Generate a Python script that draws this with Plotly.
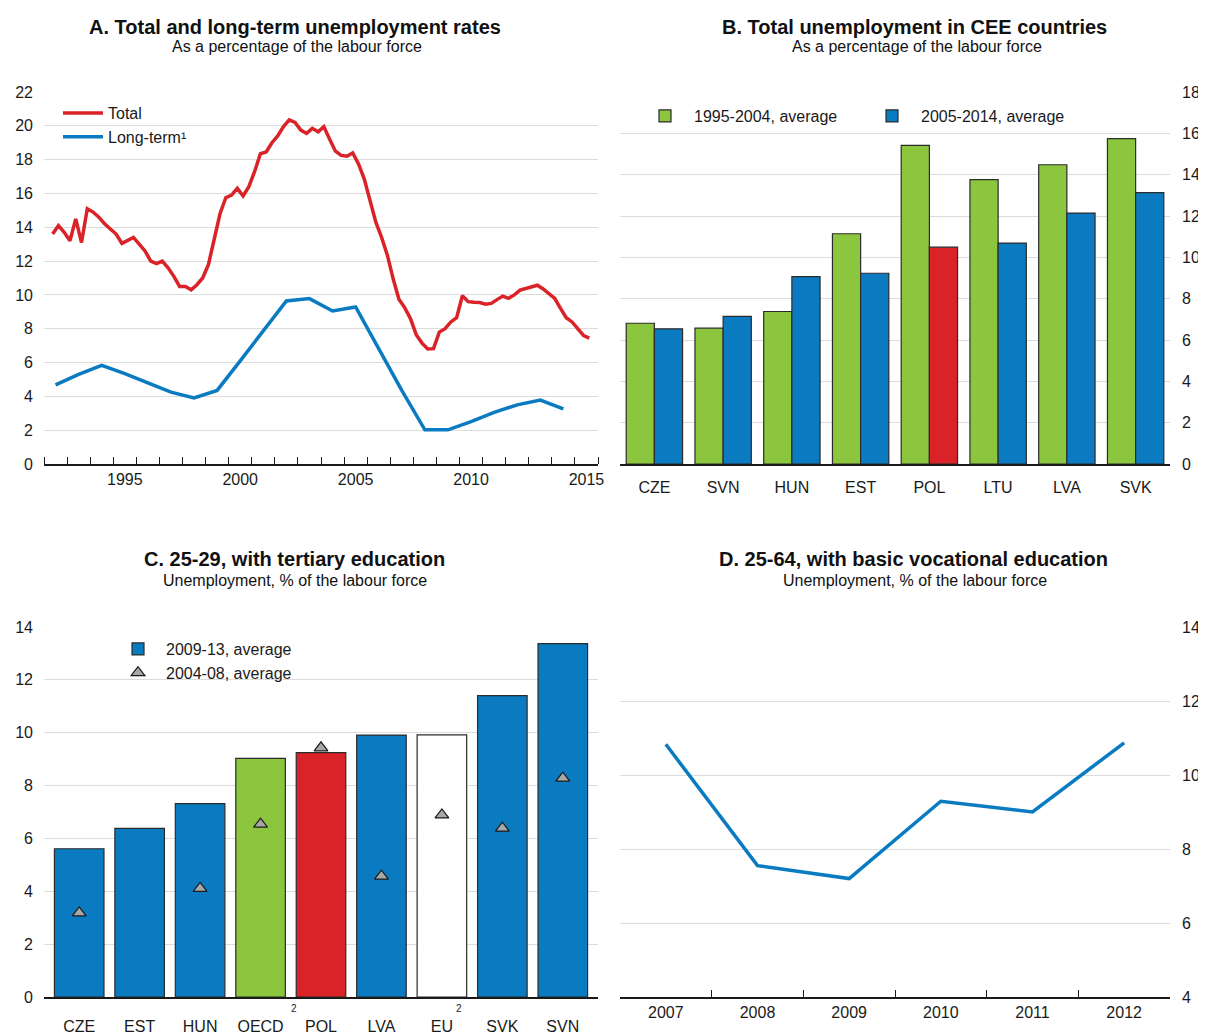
import plotly.graph_objects as go

FONT = "Liberation Sans, Arial, sans-serif"
RED = "#DA2229"
BLUE = "#0A7BC1"
GREEN = "#8CC63F"
GRID = "#DCDCDC"

# ---------------- Panel A data ----------------
quarter_start_year, quarter_start_q = 1992, 2
total_rate = [
    13.6, 14.1, 13.7,
    13.2, 14.5, 13.1, 15.1,
    14.9, 14.6, 14.2, 13.9,
    13.6, 13.05, 13.25, 13.4,
    13.0, 12.6, 12.0, 11.85,
    12.0, 11.6, 11.1, 10.5,
    10.5, 10.3, 10.6, 11.0,
    11.8, 13.3, 14.8, 15.75,
    15.9, 16.3, 15.85, 16.4,
    17.3, 18.35, 18.45, 19.0,
    19.4, 19.95, 20.35, 20.2,
    19.75, 19.55, 19.85, 19.65,
    19.95, 19.2, 18.5, 18.25,
    18.2, 18.4, 17.75, 16.85,
    15.65, 14.3, 13.4, 12.35,
    10.95, 9.75, 9.25, 8.6,
    7.65, 7.15, 6.8, 6.82,
    7.8, 8.0, 8.4, 8.65,
    9.95, 9.6, 9.57, 9.55,
    9.45, 9.5, 9.72, 9.93,
    9.8, 10.0, 10.28, 10.38,
    10.52, 10.57, 10.35, 10.05,
    9.8, 9.2, 8.65, 8.4,
    8.0, 7.6, 7.45,
]
lt_years = list(range(1992, 2015))
long_term = [4.68, 5.3, 5.83, 5.35, 4.8, 4.25, 3.91, 4.35, 6.1, 7.9, 9.64, 9.78,
             9.05, 9.29, 6.8, 4.35, 2.02, 2.02, 2.5, 3.05, 3.5, 3.78, 3.26]
a_tick_years = [1995, 2000, 2005, 2010, 2015]

# ---------------- Panel B data ----------------
b_countries = ["CZE", "SVN", "HUN", "EST", "POL", "LTU", "LVA", "SVK"]
b_1995_2004 = [6.81, 6.57, 7.38, 11.14, 15.42, 13.76, 14.48, 15.74]
b_2005_2014 = [6.54, 7.14, 9.07, 9.23, 10.49, 10.69, 12.14, 13.13]

# ---------------- Panel C data ----------------
c_countries = ["CZE", "EST", "HUN", "OECD", "POL", "LVA", "EU", "SVK", "SVN"]
c_notes = ["OECD", "EU"]  # categories carrying footnote 2
c_2009_13 = [5.61, 6.38, 7.32, 9.03, 9.25, 9.91, 9.92, 11.4, 13.37]
c_2004_08 = [3.18, None, 4.11, 6.54, 9.43, 4.57, 6.89, 6.39, 8.28]
c_bar_colors = [BLUE, BLUE, BLUE, GREEN, RED, BLUE, "white", BLUE, BLUE]

# ---------------- Panel D data ----------------
d_years = ["2007", "2008", "2009", "2010", "2011", "2012"]
d_values = [10.83, 7.55, 7.2, 9.29, 9.0, 10.87]

# derived x positions (mid-quarter / mid-year)
total_x = []
y, q = quarter_start_year, quarter_start_q
for _ in total_rate:
    total_x.append(y + (q - 0.5) / 4)
    q += 1
    if q > 4:
        q, y = 1, y + 1
lt_x = [yr + 0.5 for yr in lt_years]

# The page body has an 8px margin, so the figure is made 8px smaller and
# screen coordinates are converted to paper fractions with that offset.
OFF = 8
W, H = 1206 - OFF, 1034 - OFF
def px(x):
    return (x - OFF) / W
def py(y):
    return 1 - (y - OFF) / H

fig = go.Figure()

# Panel A
fig.add_trace(go.Scatter(x=total_x, y=total_rate, mode="lines", name="Total",
                         line=dict(color=RED, width=3.5), xaxis="x", yaxis="y", legend="legend"))
fig.add_trace(go.Scatter(x=lt_x, y=long_term, mode="lines", name="Long-term¹",
                         line=dict(color=BLUE, width=3.5), xaxis="x", yaxis="y", legend="legend"))

# Panel B
fig.add_trace(go.Bar(x=b_countries, y=b_1995_2004, name="1995-2004, average",
                     marker=dict(color=GREEN, line=dict(color="#2b2b2b", width=1.2)),
                     xaxis="x2", yaxis="y2", legend="legend2"))
fig.add_trace(go.Bar(x=b_countries, y=b_2005_2014, name="2005-2014, average",
                     marker=dict(color=[RED if c == "POL" else BLUE for c in b_countries],
                                 line=dict(color="#2b2b2b", width=1.2)),
                     xaxis="x2", yaxis="y2", legend="legend2"))

# Panel C
fig.add_trace(go.Bar(x=c_countries, y=c_2009_13, name="2009-13, average",
                     marker=dict(color=c_bar_colors, line=dict(color="#2b2b2b", width=1.2)),
                     xaxis="x3", yaxis="y3", legend="legend3"))
fig.add_trace(go.Scatter(x=c_countries, y=c_2004_08, mode="markers", name="2004-08, average",
                         marker=dict(symbol="triangle-up", size=12, color="#A8A8A8",
                                     line=dict(color="#1a1a1a", width=1.2)),
                         xaxis="x3", yaxis="y3", legend="legend3"))

# Panel D
fig.add_trace(go.Scatter(x=d_years, y=d_values, mode="lines", showlegend=False,
                         line=dict(color=BLUE, width=3.5), xaxis="x4", yaxis="y4"))

tickfont = dict(family=FONT, size=16, color="#1a1a1a")
yA = [py(464), py(92)]
yC = [py(997), py(627)]
xL = [px(44), px(598)]
xR = [px(620), px(1170)]

common = dict(automargin=False)

fig.update_layout(
    template="none",
    width=W, height=H,
    margin=dict(l=0, r=0, t=0, b=0, pad=0),
    paper_bgcolor="white", plot_bgcolor="white",
    font=dict(family=FONT, size=16, color="#1a1a1a"),
    barmode="group",
    showlegend=True,
    hovermode=False,
    xaxis=dict(domain=xL, anchor="y", range=[1992, 2016], showgrid=False, zeroline=False,
               tickmode="array", tickvals=[yr + 0.5 for yr in a_tick_years],
               ticktext=[str(yr) for yr in a_tick_years], ticks="",
               showline=True, linecolor="#1a1a1a", linewidth=1.5, tickfont=tickfont,
               ticklabelstandoff=0,
               minor=dict(tickmode="array", tickvals=list(range(1992, 2017)), ticks="inside",
                          ticklen=7, tickcolor="#1a1a1a", tickwidth=1.2, showgrid=False),
               **common),
    yaxis=dict(domain=yA, anchor="x", range=[0, 22], dtick=2, showgrid=True, gridcolor=GRID,
               gridwidth=1.2, zeroline=False, ticks="", tickfont=tickfont, ticklabelstandoff=10,
               **common),
    xaxis2=dict(domain=xR, anchor="y2", showgrid=False, ticks="", showline=True,
                linecolor="#1a1a1a", linewidth=1.5, tickfont=tickfont, ticklabelstandoff=8,
                **common),
    yaxis2=dict(domain=yA, anchor="x2", side="right", range=[0, 18], dtick=2, showgrid=True,
                gridcolor=GRID, gridwidth=1.2, zeroline=False, ticks="", tickfont=tickfont,
                ticklabelstandoff=11, **common),
    xaxis3=dict(domain=xL, anchor="y3", showgrid=False, ticks="", showline=True,
                linecolor="#1a1a1a", linewidth=1.5, tickfont=tickfont,
                ticklabelstandoff=14, **common),
    yaxis3=dict(domain=yC, anchor="x3", range=[0, 14], dtick=2, showgrid=True, gridcolor=GRID,
                gridwidth=1.2, zeroline=False, ticks="", tickfont=tickfont, ticklabelstandoff=10,
                **common),
    xaxis4=dict(domain=xR, anchor="y4", type="category", range=[-0.5, 5.5], showgrid=False,
                ticks="inside", tickson="boundaries",
                ticklen=7, tickcolor="#1a1a1a", showline=True, linecolor="#1a1a1a",
                linewidth=1.5, tickfont=tickfont, ticklabelstandoff=0, **common),
    yaxis4=dict(domain=yC, anchor="x4", side="right", range=[4, 14], dtick=2, showgrid=True,
                gridcolor=GRID, gridwidth=1.2, zeroline=False, ticks="", tickfont=tickfont,
                ticklabelstandoff=11, **common),
    bargap=0.18, bargroupgap=0.0,
    legend=dict(x=px(58), y=py(96), xanchor="left", yanchor="top", bgcolor="rgba(0,0,0,0)",
                font=dict(family=FONT, size=16), tracegroupgap=0, itemwidth=40),
    legend2=dict(x=px(636), y=py(99), xanchor="left", yanchor="top", orientation="h",
                 bgcolor="rgba(0,0,0,0)", font=dict(family=FONT, size=16),
                 itemwidth=48, entrywidth=164),
    legend3=dict(x=px(110), y=py(632), xanchor="left", yanchor="top", bgcolor="rgba(0,0,0,0)",
                 font=dict(family=FONT, size=16), itemwidth=46),
)

# footnote markers on panel C category labels (placed right of the label, raised)
note_shift = {"OECD": 33, "EU": 17}
for cat in c_notes:
    fig.add_annotation(x=cat, y=0, xref="x3", yref="y3", text="2", showarrow=False,
                       xshift=note_shift[cat], yshift=-11, xanchor="center", yanchor="middle",
                       font=dict(family=FONT, size=10, color="#1a1a1a"))

titles = [
    (295, 27, "<b>A. Total and long-term unemployment rates</b>", 20),
    (297, 47, "As a percentage of the labour force", 16),
    (914, 27, "<b>B. Total unemployment in CEE countries</b>", 20),
    (917, 47, "As a percentage of the labour force", 16),
    (294, 559, "<b>C. 25-29, with tertiary education</b>", 20),
    (295, 580, "Unemployment, % of the labour force", 16),
    (913, 559, "<b>D. 25-64, with basic vocational education</b>", 20),
    (915, 580, "Unemployment, % of the labour force", 16),
]
for x, y, t, s in titles:
    fig.add_annotation(x=px(x), y=py(y), xref="paper", yref="paper", text=t, showarrow=False,
                       xanchor="center", yanchor="middle",
                       font=dict(family=FONT, size=s, color="#111111"))

fig.write_html("out.html")
